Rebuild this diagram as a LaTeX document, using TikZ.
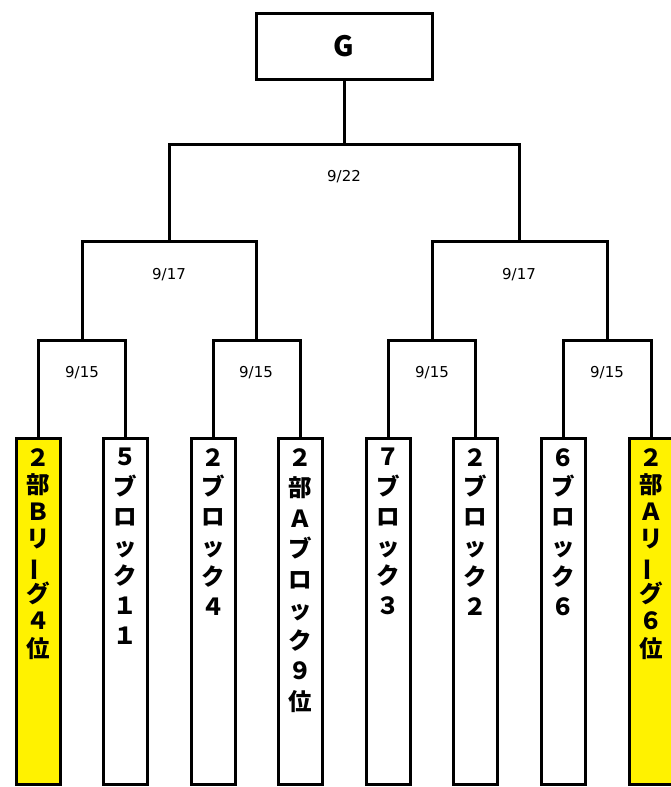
\documentclass[tikz,border=0pt]{standalone}
\usepackage{fontspec}
\newfontfamily\jp{Noto Sans CJK JP}
\newfontfamily\dt{DejaVu Sans}
\newcommand{\vbar}{\rotatebox[origin=c]{90}{ー}}
\begin{document}
\begin{tikzpicture}[x=1pt,y=-1pt,
  ln/.style={line width=3pt},
  team/.style={draw, line width=3pt, fill=white, minimum width=44pt, minimum height=346pt, anchor=north, inner sep=0pt},
  yel/.style={fill=yellow},
  vtxt/.style={anchor=north, inner sep=0pt, align=center, text width=30pt, font={\jp\bfseries\fontsize{23.5}{#1}\selectfont}},
  date/.style={inner sep=0pt, font={\dt\fontsize{15}{18}\selectfont}},
  gbox/.style={draw, line width=3pt, minimum width=176pt, minimum height=66pt, inner sep=0pt, font={\jp\bfseries\fontsize{28}{32}\selectfont}}
]
\useasboundingbox (0,0) rectangle (670,787);
\fill[white] (0,0) rectangle (670,787);

% champion box
\node[gbox] (g) at (344,46) {G};

% team boxes
\node[team,yel] (t1) at (38,437) {};
\node[team] (t2) at (125,437) {};
\node[team] (t3) at (213,437) {};
\node[team] (t4) at (300,437) {};
\node[team] (t5) at (388,437) {};
\node[team] (t6) at (475,437) {};
\node[team] (t7) at (563,437) {};
\node[team,yel] (t8) at (651,437) {};

% team texts
\node[vtxt=27.3] (l1) at (38,448) {２\\部\\Ｂ\\リ\\\vbar\\グ\\４\\位};
\node[vtxt=29.8] (l2) at (125,448) {５\\ブ\\ロ\\ッ\\ク\\１\\１};
\node[vtxt=29.8] (l3) at (213,448) {２\\ブ\\ロ\\ッ\\ク\\４};
\node[vtxt=30.5] (l4) at (300,448) {２\\部\\Ａ\\ブ\\ロ\\ッ\\ク\\９\\位};
\node[vtxt=29.8] (l5) at (388,448) {７\\ブ\\ロ\\ッ\\ク\\３};
\node[vtxt=29.8] (l6) at (475,448) {２\\ブ\\ロ\\ッ\\ク\\２};
\node[vtxt=29.8] (l7) at (563,448) {６\\ブ\\ロ\\ッ\\ク\\６};
\node[vtxt=27.3] (l8) at (651,448) {２\\部\\Ａ\\リ\\\vbar\\グ\\６\\位};

% junction points
\coordinate (q1) at (82,340);
\coordinate (q2) at (256,340);
\coordinate (q3) at (432,340);
\coordinate (q4) at (607,340);
\coordinate (s1) at (169,241);
\coordinate (s2) at (519,241);
\coordinate (f) at (344,144);

% bracket lines
\draw[ln] (t1.north) |- (q1) -| (t2.north);
\draw[ln] (t3.north) |- (q2) -| (t4.north);
\draw[ln] (t5.north) |- (q3) -| (t6.north);
\draw[ln] (t7.north) |- (q4) -| (t8.north);
\draw[ln] (q1) |- (s1) -| (q2);
\draw[ln] (q3) |- (s2) -| (q4);
\draw[ln] (s1) |- (f) -| (s2);
\draw[ln] (f) -- (g.south);

% dates
\node[date] (d1) at (82,373) {9/15};
\node[date] (d2) at (256,373) {9/15};
\node[date] (d3) at (432,373) {9/15};
\node[date] (d4) at (607,373) {9/15};
\node[date] (d5) at (169,275) {9/17};
\node[date] (d6) at (519,275) {9/17};
\node[date] (d7) at (344,177) {9/22};
\end{tikzpicture}
\end{document}
